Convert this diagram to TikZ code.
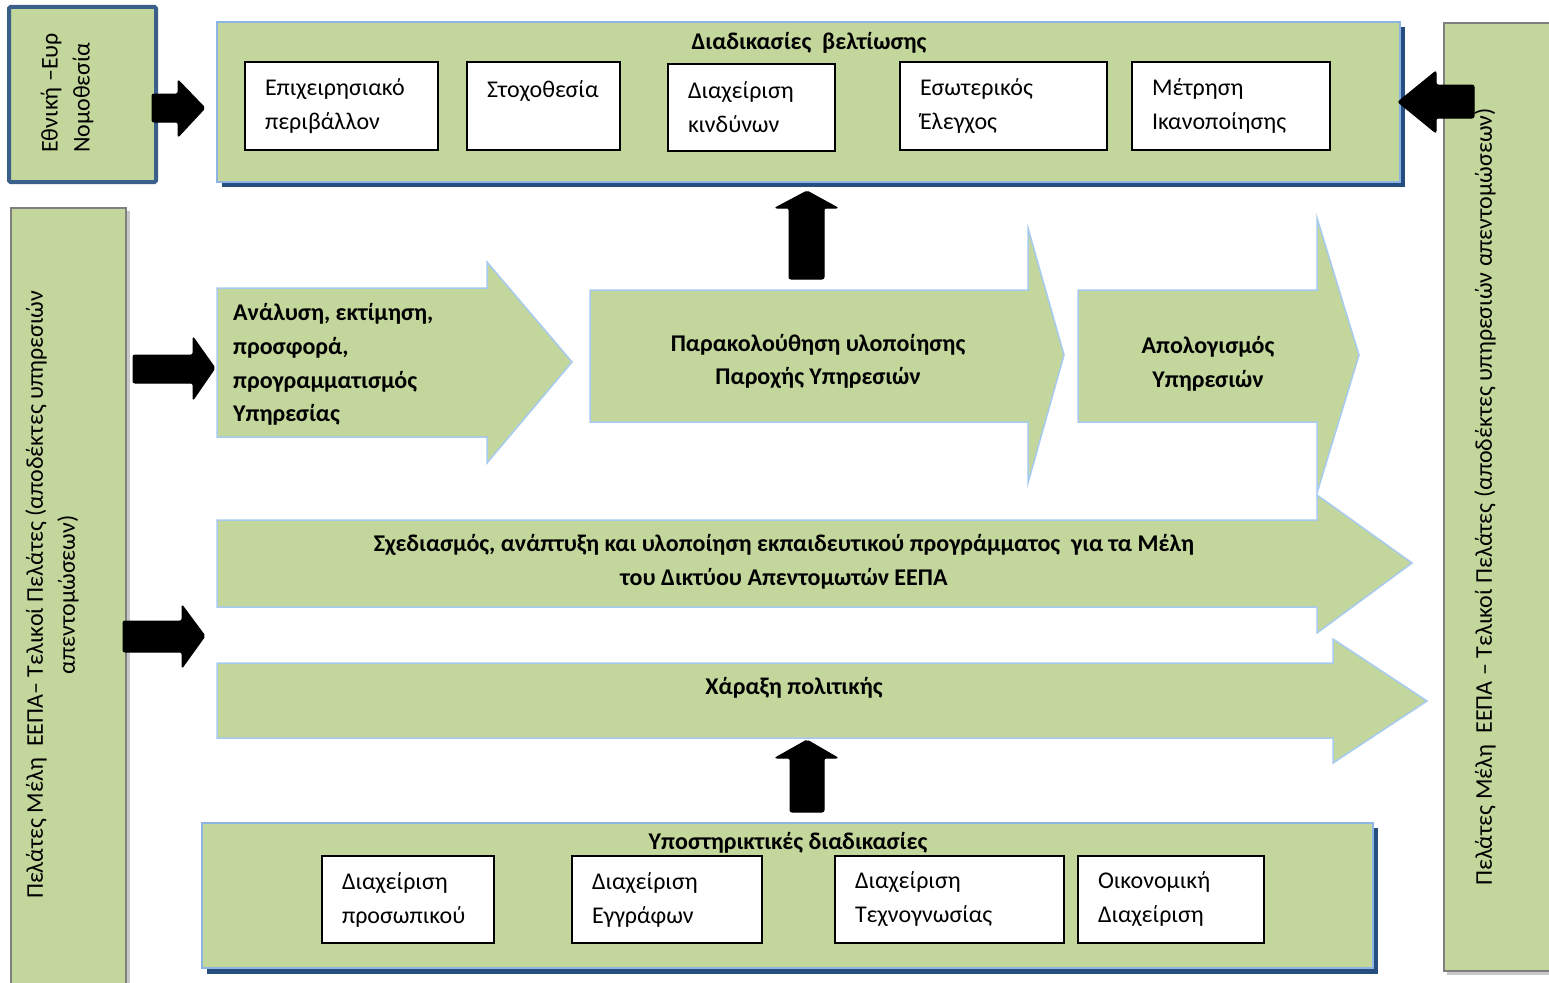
\documentclass[tikz,border=0pt]{standalone}
\usepackage{fontspec}
\setmainfont{Carlito}
\definecolor{fgreen}{HTML}{C3D69B}
\definecolor{pblue}{HTML}{8DB4E2}
\definecolor{ablue}{HTML}{A6CAF0}
\definecolor{sblue}{HTML}{254F7E}
\definecolor{lawblue}{HTML}{3A5F8B}
\definecolor{gborder}{HTML}{7F7F7F}
\definecolor{gshadow}{HTML}{C8C8C8}
\begin{document}
\begin{tikzpicture}[x=1pt,y=-1pt,
  every node/.style={font=\fontsize{24}{34}\selectfont},
  panel/.style={draw=pblue, line width=2.5pt, fill=fgreen, inner sep=0pt},
  shadowbox/.style={fill=sblue, draw=none},
  whitebox/.style={draw=black, line width=1.5pt, fill=white, align=left, inner xsep=20pt, inner ysep=0pt, minimum height=#1},
  flow/.style={fill=fgreen, draw=ablue, line width=1.5pt},
  blk/.style={fill=black, draw=black, line width=1pt, rounded corners=2pt},
  side/.style={draw=gborder, line width=1.8pt, fill=fgreen},
  btxt/.style={font=\fontsize{24}{33.7}\selectfont\bfseries, inner sep=0pt},
  rtxt/.style={rotate=90, inner sep=0pt}
]
\useasboundingbox (0,0) rectangle (1549,982);

% ---- side boxes ----
\fill[gshadow] (14,211) rectangle (130,1000);
\node[side, minimum width=115pt, minimum height=800pt, anchor=north west] (left) at (10,207) {};
\fill[gshadow] (1447,26) rectangle (1560,975);
\node[side, minimum width=120pt, minimum height=948pt, anchor=north west] (right) at (1443,22) {};
\node[rtxt, align=center, font=\fontsize{24}{32}\selectfont] (lefttxt) at (52,595)
  {Πελάτες Μέλη\ \ ΕΕΠΑ– Τελικοί Πελάτες (αποδέκτες υπηρεσιών\\απεντομώσεων)};
\node[rtxt] (righttxt) at (1485,497)
  {Πελάτες Μέλη\ \ ΕΕΠΑ – Τελικοί Πελάτες (αποδέκτες υπηρεσιών απεντομώσεων)};

% ---- law box ----
\node[draw=lawblue, line width=4pt, fill=fgreen, rounded corners=1.5pt, minimum width=147pt, minimum height=175pt] (law) at (82.5,94.5) {};
\node[rtxt, align=left, anchor=west, font=\fontsize{24}{32}\selectfont] (lawtxt) at (67,153) {Εθνική –Ευρ\\Νομοθεσία};

% ---- top panel ----
\fill[shadowbox] (222,27) rectangle (1405,187);
\node[panel, minimum width=1183pt, minimum height=160pt] (top) at (808.5,102) {};
\node[btxt] (toptitle) at (809,43) {Διαδικασίες\ \ βελτίωσης};
\node[whitebox=88pt, text width=153pt] (t1) at (341.5,106) {Επιχειρησιακό\\περιβάλλον};
\node[whitebox=88pt, text width=113pt] (t2) at (543.5,106) {Στοχοθεσία\\\mbox{}};
\node[whitebox=87pt, text width=127pt] (t3) at (751.5,107.5) {Διαχείριση\\κινδύνων};
\node[whitebox=88pt, text width=167pt] (t4) at (1003.5,106) {Εσωτερικός\\Έλεγχος};
\node[whitebox=88pt, text width=158pt] (t5) at (1231,106) {Μέτρηση\\Ικανοποίησης};

% ---- bottom panel ----
\fill[shadowbox] (207,828) rectangle (1378,974);
\node[panel, minimum width=1171pt, minimum height=145pt] (bottom) at (787.5,895.5) {};
\node[btxt] (bottomtitle) at (788,843) {Υποστηρικτικές διαδικασίες};
\node[whitebox=87pt, text width=132pt] (b1) at (408,899.5) {Διαχείριση\\προσωπικού};
\node[whitebox=87pt, text width=150pt] (b2) at (667,899.5) {Διαχείριση\\Εγγράφων};
\node[whitebox=87pt, text width=189pt] (b3) at (949.5,899.5) {Διαχείριση\\Τεχνογνωσίας};
\node[whitebox=87pt, text width=146pt] (b4) at (1171,899.5) {Οικονομική\\Διαχείριση};

% ---- flow arrows ----
\draw[flow] (217,288) -- (487,288) -- (487,262) -- (572,362) -- (487,463) -- (487,437) -- (217,437) -- cycle;
\node[btxt, align=left, anchor=west] (f1) at (233,364.5) {Ανάλυση, εκτίμηση,\\προσφορά,\\προγραμματισμός\\Υπηρεσίας};
\draw[flow] (590,290) -- (1028,290) -- (1028,228) -- (1064,355) -- (1028,483) -- (1028,422) -- (590,422) -- cycle;
\node[btxt, align=center] (f2) at (818,361.5) {Παρακολούθηση υλοποίησης\\Παροχής Υπηρεσιών};
\draw[flow] (1078,290) -- (1317,290) -- (1317,218) -- (1359,355) -- (1317,493) -- (1317,422) -- (1078,422) -- cycle;
\node[btxt, align=center] (f3) at (1208,364) {Απολογισμός\\Υπηρεσιών};
\draw[flow] (217,520) -- (1317,520) -- (1317,495) -- (1412,563) -- (1317,633) -- (1317,607) -- (217,607) -- cycle;
\node[btxt, align=center] (f4) at (784,561.5) {Σχεδιασμός, ανάπτυξη και υλοποίηση εκπαιδευτικού προγράμματος\ \ για τα Μέλη\\του Δικτύου Απεντομωτών ΕΕΠΑ};
\draw[flow] (217,663) -- (1333,663) -- (1333,639) -- (1427,701) -- (1333,763) -- (1333,738) -- (217,738) -- cycle;
\node[btxt] (f5) at (794,688) {Χάραξη πολιτικής};

% ---- black block arrows ----
\draw[blk] (152,94) -- (178,94) -- (178,80) -- (205,108) -- (178,137) -- (178,122) -- (152,122) -- cycle;
\draw[blk] (1474,85) -- (1436,85) -- (1436,71) -- (1398,102) -- (1436,133) -- (1436,118) -- (1474,118) -- cycle;
\draw[blk] (133,355) -- (193,355) -- (193,337) -- (215,368) -- (193,400) -- (193,383) -- (133,383) -- cycle;
\draw[blk] (123,621) -- (182,621) -- (182,605) -- (205,636) -- (182,668) -- (182,652) -- (123,652) -- cycle;
\draw[blk] (789,279) -- (789,208) -- (775,208) -- (807,191) -- (838,208) -- (824,208) -- (824,279) -- cycle;
\draw[blk] (790,812) -- (790,758) -- (775,758) -- (807,740) -- (838,758) -- (824,758) -- (824,812) -- cycle;
\end{tikzpicture}
\end{document}
